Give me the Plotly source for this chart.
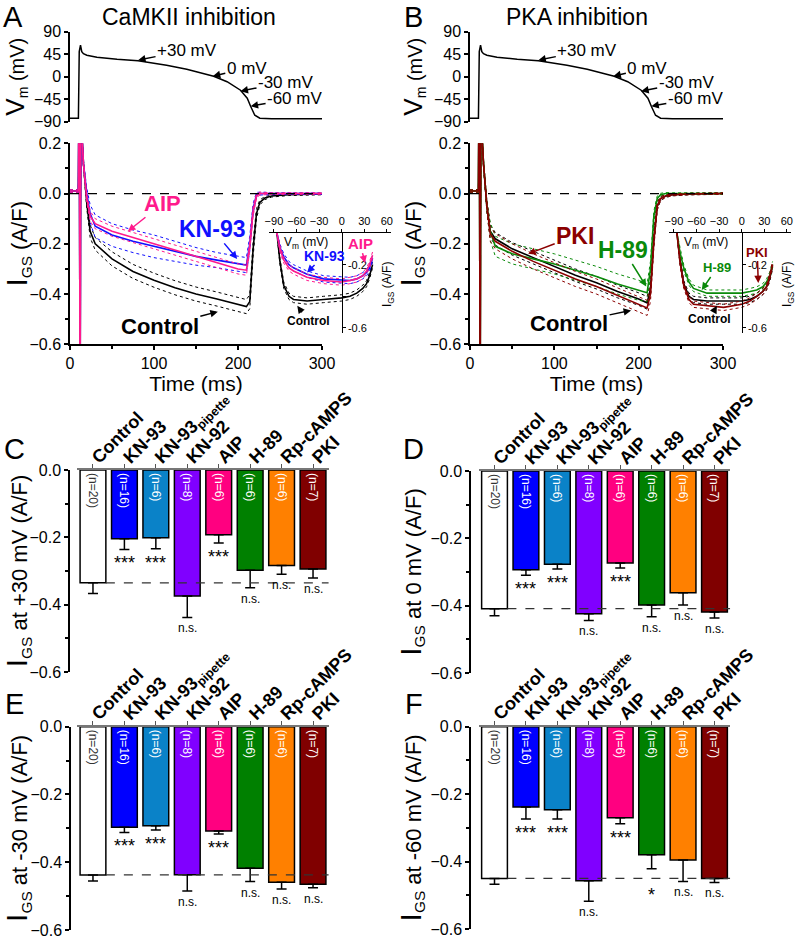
import plotly.graph_objects as go

FONT = "Liberation Sans, Arial, sans-serif"

# action potential command (ms, mV)
ap_t = [0, 10, 11, 12.5, 14, 16, 20, 32, 56, 81, 115, 139, 171, 187, 203, 211, 215, 220, 226, 240, 300]
ap_v = [-83, -83, 50, 63, 50, 46, 43, 39, 35, 32, 23, 15, 1, -10, -27, -43, -59, -77, -83, -84, -84]

# IGS traces (ms, A/F), mean and sem
cur_t = [0, 10, 11, 12, 13, 14, 16, 20, 24, 30, 50, 75, 100, 125, 150, 175, 200, 210, 214, 218, 222, 226, 232, 240, 260, 300]
ctrlA = [0.01, 0.01, 0.6, -0.9, 0.6, 0.25, 0.12, -0.04, -0.15, -0.20, -0.26, -0.31, -0.345, -0.375, -0.40, -0.42, -0.44, -0.45, -0.43, -0.22, -0.08, -0.035, -0.018, -0.01, -0.005, -0.002]
ctrlA_sem = [0.005, 0.005, 0, 0, 0, 0, 0.01, 0.02, 0.025, 0.025, 0.028, 0.028, 0.028, 0.028, 0.028, 0.028, 0.028, 0.028, 0.028, 0.03, 0.02, 0.01, 0.006, 0.004, 0.003, 0.003]
kn93A = [0.01, 0.01, 0.6, -0.9, 0.6, 0.25, 0.12, 0.0, -0.08, -0.13, -0.165, -0.19, -0.21, -0.23, -0.25, -0.265, -0.28, -0.285, -0.20, -0.06, -0.005, 0, 0, 0, 0, 0]
kn93A_sem = [0.005, 0.005, 0, 0, 0, 0, 0.01, 0.02, 0.035, 0.045, 0.045, 0.045, 0.045, 0.04, 0.035, 0.03, 0.03, 0.03, 0.03, 0.02, 0.01, 0.006, 0.005, 0.004, 0.003, 0.003]
aipA = [0.01, 0.01, 0.6, -0.9, 0.6, 0.25, 0.12, -0.02, -0.09, -0.12, -0.15, -0.175, -0.20, -0.225, -0.25, -0.275, -0.30, -0.305, -0.21, -0.07, -0.01, 0, 0, 0, 0, 0]
aipA_sem = [0.005, 0.005, 0, 0, 0, 0, 0.01, 0.015, 0.02, 0.02, 0.02, 0.02, 0.02, 0.02, 0.02, 0.02, 0.02, 0.02, 0.02, 0.02, 0.01, 0.006, 0.004, 0.003, 0.003, 0.003]

ctrlB = [0.01, 0.01, 0.6, -0.9, 0.6, 0.25, 0.12, -0.05, -0.15, -0.18, -0.22, -0.255, -0.29, -0.325, -0.355, -0.39, -0.42, -0.435, -0.38, -0.18, -0.05, -0.02, -0.01, -0.005, -0.002, 0]
ctrlB_sem = [0.005, 0.005, 0, 0, 0, 0, 0.01, 0.02, 0.025, 0.025, 0.025, 0.025, 0.025, 0.025, 0.025, 0.025, 0.025, 0.025, 0.025, 0.025, 0.015, 0.008, 0.005, 0.004, 0.003, 0.003]
pkiB = [0.01, 0.01, 0.6, -0.9, 0.6, 0.25, 0.12, -0.05, -0.16, -0.19, -0.23, -0.27, -0.305, -0.34, -0.37, -0.405, -0.44, -0.455, -0.40, -0.19, -0.05, -0.02, -0.01, -0.005, -0.002, 0]
pkiB_sem = [0.005, 0.005, 0, 0, 0, 0, 0.01, 0.02, 0.03, 0.03, 0.03, 0.03, 0.03, 0.03, 0.03, 0.03, 0.03, 0.03, 0.03, 0.025, 0.015, 0.008, 0.005, 0.004, 0.003, 0.003]
h89B = [0.01, 0.01, 0.6, -0.9, 0.6, 0.25, 0.12, -0.05, -0.15, -0.21, -0.24, -0.26, -0.28, -0.305, -0.33, -0.36, -0.385, -0.395, -0.30, -0.09, -0.02, -0.005, 0, 0, 0, 0]
h89B_sem = [0.005, 0.005, 0, 0, 0, 0, 0.01, 0.02, 0.035, 0.04, 0.04, 0.04, 0.04, 0.04, 0.04, 0.04, 0.04, 0.035, 0.03, 0.02, 0.01, 0.006, 0.004, 0.003, 0.003, 0.003]

# I-V insets (mV, A/F)
iv_v = [-86, -82, -77, -70, -64, -46, -24, 0, 11, 20, 28, 33, 37, 41]
ivA_ctrl = [0.0, -0.18, -0.33, -0.40, -0.42, -0.43, -0.42, -0.41, -0.40, -0.38, -0.35, -0.32, -0.27, -0.20]
ivA_kn93 = [0.0, -0.09, -0.15, -0.20, -0.22, -0.26, -0.29, -0.30, -0.30, -0.29, -0.27, -0.25, -0.22, -0.16]
ivA_aip = [0.0, -0.10, -0.17, -0.22, -0.24, -0.28, -0.30, -0.31, -0.30, -0.29, -0.27, -0.24, -0.20, -0.14]
ivB_ctrl = [0.0, -0.17, -0.32, -0.40, -0.42, -0.43, -0.43, -0.43, -0.42, -0.40, -0.37, -0.34, -0.29, -0.21]
ivB_pki = [0.0, -0.18, -0.33, -0.42, -0.45, -0.46, -0.47, -0.45, -0.43, -0.40, -0.37, -0.34, -0.28, -0.20]
ivB_h89 = [0.0, -0.12, -0.22, -0.31, -0.35, -0.38, -0.38, -0.38, -0.37, -0.36, -0.34, -0.31, -0.27, -0.20]
iv_sem = [0.0, 0.02, 0.02, 0.02, 0.02, 0.02, 0.02, 0.02, 0.02, 0.02, 0.02, 0.02, 0.02, 0.02]

# bar summaries
cats = ["Control", "KN-93", "KN-93<sub>pipette</sub>", "KN-92", "AIP", "H-89", "Rp-cAMPS", "PKI"]
n_text = ["(n=20)", "(n=16)", "(n=6)", "(n=8)", "(n=6)", "(n=6)", "(n=6)", "(n=7)"]
bar_colors = ["white", "#0000FF", "#0A82C8", "#8000FF", "#FF0080", "#008000", "#FF8000", "#800000"]
n_colors = ["#333333"] + ["white"] * 7

vals_p30 = [-0.335, -0.204, -0.201, -0.374, -0.192, -0.298, -0.284, -0.294]
err_p30 = [0.032, 0.032, 0.033, 0.064, 0.025, 0.052, 0.026, 0.027]
vals_0 = [-0.409, -0.293, -0.277, -0.424, -0.273, -0.398, -0.362, -0.419]
err_0 = [0.021, 0.017, 0.014, 0.02, 0.015, 0.035, 0.036, 0.018]
vals_m30 = [-0.4375, -0.297, -0.292, -0.437, -0.308, -0.418, -0.459, -0.465]
err_m30 = [0.018, 0.015, 0.013, 0.048, 0.009, 0.039, 0.020, 0.010]
vals_m60 = [-0.45, -0.238, -0.246, -0.457, -0.27, -0.38, -0.395, -0.45]
err_m60 = [0.017, 0.036, 0.028, 0.061, 0.018, 0.041, 0.064, 0.012]
sig_std = ["", "***", "***", "n.s.", "***", "n.s.", "n.s.", "n.s."]
sig_m60 = ["", "***", "***", "n.s.", "***", "*", "n.s.", "n.s."]

BLACK, BLUE, PINK = "black", "#1010FF", "#FF1A8C"
DRED, GREEN = "#8B0000", "#0A8A0A"

W, H = 800, 940


def fx(x):
    return x / W


def fy(y):
    return 1 - y / H


fig = go.Figure()


def add_group(xa, ya, t, mean, sem, color):
    up = [m + s for m, s in zip(mean, sem)]
    lo = [m - s for m, s in zip(mean, sem)]
    for yy, w, d in [(up, 1, "dot"), (lo, 1, "dot"), (mean, 1.6, "solid")]:
        fig.add_trace(go.Scatter(x=t, y=yy, mode="lines", xaxis=xa, yaxis=ya,
                                 line=dict(color=color, width=w, dash=d), showlegend=False))


axis_base = dict(showline=True, linecolor="black", linewidth=1.5, ticks="outside", automargin=False,
                 tickwidth=1.5, ticklen=4, tickcolor="black", showgrid=False, zeroline=False,
                 tickfont=dict(size=16, color="black"))

ap_title = '<span style="font-size:26px">V</span><sub>m</sub> (mV)'
igs_title = '<span style="font-size:30px">I</span><sub>GS</sub> (A/F)'

lay = {}
for k, (x0, x1) in enumerate([(70, 322), (470, 723)]):
    n0 = 3 * k
    xa_ap, xa_cur, xa_iv = n0 + 1, n0 + 2, n0 + 3
    lay[f"xaxis{xa_ap}"] = dict(domain=[fx(x0), fx(x1)], range=[0, 300], visible=False,
                                 anchor=f"y{xa_ap}", automargin=False)
    lay[f"yaxis{xa_ap}"] = dict(axis_base, domain=[fy(121.7), fy(31.7)], range=[-90, 90],
                                 tickvals=[90, 45, 0, -45, -90], anchor=f"x{xa_ap}",
                                 title=dict(text=ap_title, font=dict(size=20), standoff=6))
    lay[f"xaxis{xa_cur}"] = dict(axis_base, domain=[fx(x0), fx(x1)], range=[0, 300],
                                  tickvals=[0, 100, 200, 300], anchor=f"y{xa_cur}",
                                  minor=dict(dtick=50, ticks="outside", ticklen=3, tickcolor="black"),
                                  title=dict(text="Time (ms)", font=dict(size=21), standoff=2))
    lay[f"yaxis{xa_cur}"] = dict(axis_base, domain=[fy(344.3), fy(143.3)], range=[-0.6, 0.2],
                                  tickvals=[0.2, 0, -0.2, -0.4, -0.6], tickformat=".1f", anchor=f"x{xa_cur}",
                                  minor=dict(dtick=0.1, ticks="outside", ticklen=3, tickcolor="black"),
                                  title=dict(text=igs_title, font=dict(size=22), standoff=2))
    zx = 341.7 + 400 * k
    lay[f"xaxis{xa_iv}"] = dict(axis_base, domain=[fx(zx - 72.3), fx(zx + 49.7)], range=[-96, 66],
                                 tickvals=[-90, -60, -30, 0, 30, 60], side="top", anchor=f"y{xa_iv}",
                                 tickangle=0, ticklen=3, linewidth=1, tickwidth=1,
                                 tickfont=dict(size=11, color="black"))
    lay[f"yaxis{xa_iv}"] = dict(axis_base, domain=[fy(332.7), fy(233)], range=[-0.63, 0],
                                 anchor="free", position=fx(zx), side="right", linewidth=1, tickwidth=1,
                                 ticklen=3, tickvals=[-0.2, -0.4, -0.6], ticktext=["-0.2", "", "-0.6"],
                                 tickfont=dict(size=11, color="black"))

    fig.add_trace(go.Scatter(x=ap_t, y=ap_v, mode="lines", xaxis=f"x{xa_ap}", yaxis=f"y{xa_ap}",
                             line=dict(color="black", width=1.5), showlegend=False))
    fig.add_shape(type="line", x0=0, x1=300, y0=0, y1=0, xref=f"x{xa_cur}", yref=f"y{xa_cur}",
                  line=dict(color="black", width=1.2, dash="dash"))

# panel A traces
add_group("x2", "y2", cur_t, ctrlA, ctrlA_sem, BLACK)
add_group("x2", "y2", cur_t, kn93A, kn93A_sem, BLUE)
add_group("x2", "y2", cur_t, aipA, aipA_sem, PINK)
add_group("x3", "y3", iv_v, ivA_ctrl, iv_sem, BLACK)
add_group("x3", "y3", iv_v, ivA_kn93, iv_sem, BLUE)
add_group("x3", "y3", iv_v, ivA_aip, iv_sem, PINK)
# panel B traces
add_group("x5", "y5", cur_t, ctrlB, ctrlB_sem, BLACK)
add_group("x5", "y5", cur_t, h89B, h89B_sem, GREEN)
add_group("x5", "y5", cur_t, pkiB, pkiB_sem, DRED)
add_group("x6", "y6", iv_v, ivB_ctrl, iv_sem, BLACK)
add_group("x6", "y6", iv_v, ivB_h89, iv_sem, GREEN)
add_group("x6", "y6", iv_v, ivB_pki, iv_sem, DRED)

ann = []


def arrow(text, xr, yr, x, y, ax, ay, color="black", size=17, bold=False):
    ann.append(dict(text=f"<b>{text}</b>" if bold else text, x=x, y=y, xref=xr, yref=yr, ax=ax, ay=ay,
                    showarrow=True, arrowhead=2, arrowsize=1, arrowwidth=1.5, arrowcolor=color,
                    font=dict(size=size, color=color)))


for xr, yr in [("x1", "y1"), ("x4", "y4")]:
    arrow("+30 mV", xr, yr, 81, 33, 49, -10)
    arrow("0 mV", xr, yr, 170, 1, 34, -8)
    arrow("-30 mV", xr, yr, 203, -29, 45, -9)
    arrow("-60 mV", xr, yr, 215, -59, 44, -8)

arrow("AIP", "x2", "y2", 69, -0.15, 35, -28, PINK, 22, True)
arrow("KN-93", "x2", "y2", 199, -0.26, -25, -30, BLUE, 23, True)
arrow("Control", "x2", "y2", 176, -0.47, -58, 15, BLACK, 22, True)
arrow("PKI", "x5", "y5", 69, -0.24, 47, -18, DRED, 23, True)
arrow("H-89", "x5", "y5", 209, -0.37, -23, -37, GREEN, 23, True)
arrow("Control", "x5", "y5", 191, -0.465, -62, 13, BLACK, 22, True)
arrow("KN-93", "x3", "y3", -46, -0.25, 17, -17, BLUE, 14, True)
arrow("AIP", "x3", "y3", 31, -0.19, -5, -20, PINK, 15, True)
arrow("Control", "x3", "y3", -59, -0.46, 11, 15, BLACK, 12, True)
arrow("H-89", "x6", "y6", -53, -0.36, 15, -22, GREEN, 13, True)
arrow("PKI", "x6", "y6", 22, -0.316, -1, -31, DRED, 13, True)
arrow("Control", "x6", "y6", -33, -0.46, -7, 13, BLACK, 12, True)


def text(t, x, y, size, angle=0, color="black"):
    ann.append(dict(text=t, x=fx(x), y=fy(y), xref="paper", yref="paper", showarrow=False,
                    xanchor="center", yanchor="middle", textangle=angle,
                    font=dict(size=size, color=color)))


for k in range(2):
    text("V<sub>m</sub> (mV)", 306 + 400 * k, 243, 12)
    text("I<sub>GS</sub> (A/F)", 388 + 400 * k, 285, 12, -90)
text("CaMKII inhibition", 189, 17, 23)
text("PKA inhibition", 577, 17, 23)
for letter, x, y in [("A", 13, 17), ("B", 413, 17), ("C", 14, 449), ("D", 414, 449), ("E", 14, 704), ("F", 414, 704)]:
    text(letter, x, y, 29)

panels = [
    (7, vals_p30, err_p30, sig_std, "+30 mV", 69, 77.25, 328.75, 470, 672),
    (8, vals_0, err_0, sig_std, "0 mV", 470, 478.8, 730.2, 471, 673),
    (9, vals_m30, err_m30, sig_std, "-30 mV", 70, 77.25, 328.75, 726.7, 930),
    (10, vals_m60, err_m60, sig_m60, "-60 mV", 470, 478.8, 730.2, 726.7, 929),
]
sig_shift = {"***": -2, "*": -14, "n.s.": -2}
for n, vals, errs, sig, lab, yx, x0, x1, ytop, ybot in panels:
    fig.add_trace(go.Bar(x=cats, y=vals, width=0.82, xaxis=f"x{n}", yaxis=f"y{n}",
                         marker=dict(color=bar_colors, line=dict(color="black", width=1.5)),
                         error_y=dict(type="data", symmetric=False, array=[0] * 8, arrayminus=errs,
                                      color="black", thickness=1.5, width=5),
                         text=n_text, textposition="inside", insidetextanchor="start", textangle=90,
                         textfont=dict(size=12, color=n_colors), constraintext="none", showlegend=False))
    lay[f"xaxis{n}"] = dict(domain=[fx(x0), fx(x1)], range=[-0.5, 7.5], side="top", anchor=f"y{n}",
                            showline=True, linecolor="#777777", linewidth=1.5, ticks="outside", ticklen=4,
                            tickcolor="#555555", tickangle=-45, showgrid=False, zeroline=False, automargin=False,
                            ticklabelstandoff=-10, tickfont=dict(size=18, color="black", weight="bold"))
    lay[f"yaxis{n}"] = dict(axis_base, domain=[fy(ybot), fy(ytop)], range=[-0.6, 0],
                            anchor="free", position=fx(yx), tickvals=[0, -0.2, -0.4, -0.6], tickformat=".1f",
                            minor=dict(dtick=0.1, ticks="outside", ticklen=3, tickcolor="black"),
                            title=dict(text=f'<span style="font-size:30px">I</span><sub>GS</sub> at {lab} (A/F)',
                                       font=dict(size=22), standoff=2))
    fig.add_shape(type="line", x0=0.41, x1=7.5, y0=vals[0], y1=vals[0], xref=f"x{n}", yref=f"y{n}",
                  line=dict(color="#333333", width=1.2, dash="dash"))
    for i, s in enumerate(sig):
        if s:
            ann.append(dict(text=s, x=cats[i], y=vals[i] - errs[i], xref=f"x{n}", yref=f"y{n}",
                            yanchor="top", yshift=sig_shift[s], showarrow=False,
                            font=dict(size=18 if "*" in s else 12, color="black")))

fig.update_layout(**lay)
fig.update_layout(width=W, height=H, margin=dict(l=0, r=0, t=0, b=0),
                  plot_bgcolor="white", paper_bgcolor="white", annotations=ann,
                  font=dict(family=FONT, color="black"), showlegend=False)
# drop the default 8 px page margin so the figure fills the window
fig.write_html("out.html", config={"displayModeBar": False},
               post_script="document.body.style.margin='0';")
